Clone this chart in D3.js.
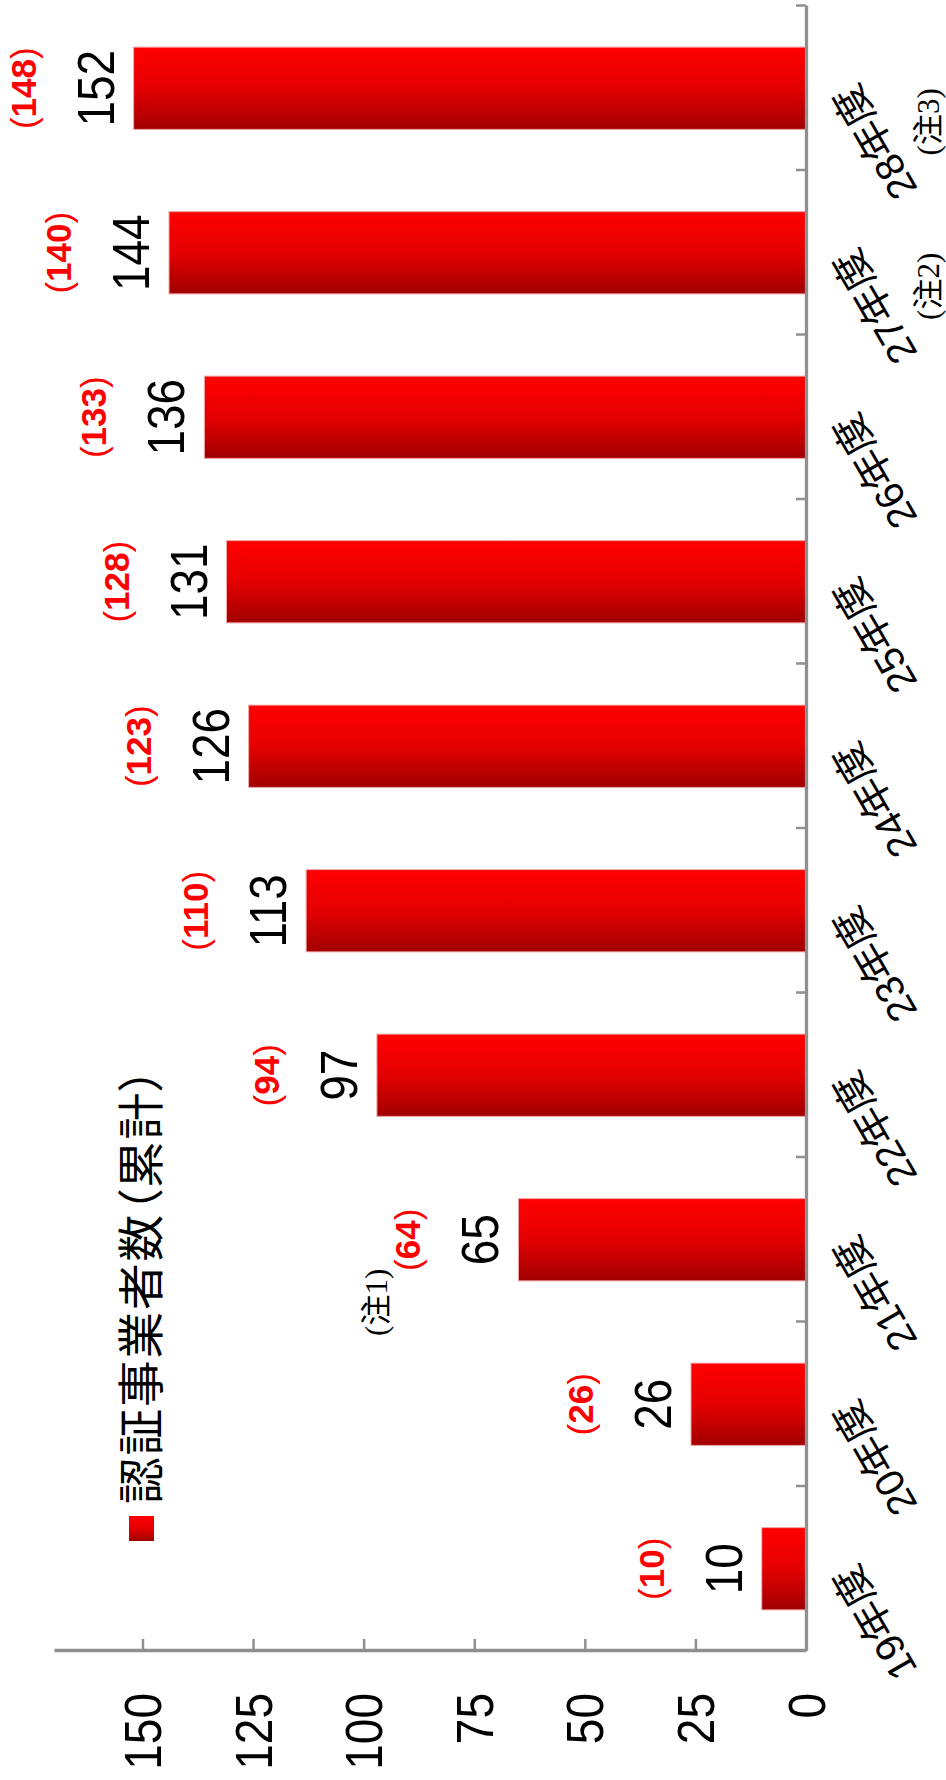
<!DOCTYPE html>
<html>
<head>
<meta charset="utf-8">
<script src="https://cdn.jsdelivr.net/npm/d3@7"></script>
<style>
  body { margin: 0; background: #fff; }
  svg { display: block; }
</style>
</head>
<body>
<div id="chart"></div>
<script>
// Datos
var years = ["19年度", "20年度", "21年度", "22年度", "23年度", "24年度", "25年度", "26年度", "27年度", "28年度"];
var counts = [10, 26, 65, 97, 113, 126, 131, 136, 144, 152];
var prevCounts = [10, 26, 64, 94, 110, 123, 128, 133, 140, 148];
var valueTicks = [0, 25, 50, 75, 100, 125, 150];
var valueMax = 170;
var legendLabel = "認証事業者数（累計）";
var barNotes = [{ year: "21年度", text: "(注1)" }];
var axisNotes = [{ year: "27年度", text: "(注2)" }, { year: "28年度", text: "(注3)" }];

// La página es vertical; el gráfico se dibuja apaisado y se gira -90 grados
var W = 946, H = 1780;
var cw = H, ch = W;
var margin = { top: 54, right: 6, bottom: 140, left: 129 };

var svg = d3.select("#chart")
    .append("svg")
    .attr("width", W)
    .attr("height", H);

// Degradado de las barras (oscuro abajo, rojo vivo arriba)
var grad = svg.append("defs").append("linearGradient")
    .attr("id", "barGrad")
    .attr("x1", 0).attr("y1", 0).attr("x2", 1).attr("y2", 0);
grad.append("stop").attr("offset", "0%").attr("stop-color", "#a00000");
grad.append("stop").attr("offset", "50%").attr("stop-color", "#e40000");
grad.append("stop").attr("offset", "100%").attr("stop-color", "#ff0000");

var g = svg.append("g")
    .attr("transform", "translate(0," + H + ") rotate(-90)");

// Escalas
var x = d3.scaleBand()
    .domain(years)
    .range([margin.left, cw - margin.right])
    .paddingInner(0.5)
    .paddingOuter(0.25);

var xEdge = d3.scaleLinear()
    .domain([0, years.length])
    .range([margin.left, cw - margin.right]);

var y = d3.scaleLinear()
    .domain([0, valueMax])
    .range([ch - margin.bottom, margin.top]);

var numFont = "'Liberation Sans', Arial, sans-serif";
var labFont = "'Liberation Sans', 'Noto Sans CJK JP', sans-serif";
var jpFont = "'Noto Sans CJK JP', 'Noto Sans', sans-serif";
var noteFont = "'Liberation Serif', 'Noto Sans CJK JP', serif";

// Barras
g.selectAll("rect.bar")
    .data(counts)
    .enter()
    .append("rect")
    .attr("class", "bar")
    .attr("x", function (d, i) { return x(years[i]); })
    .attr("y", function (d) { return y(d); })
    .attr("width", x.bandwidth())
    .attr("height", function (d) { return y(0) - y(d); })
    .attr("fill", "url(#barGrad)")
    .attr("stroke", "#f2a6a6")
    .attr("stroke-width", 1);

// Eje de categorías (marcas entre barras)
var xAxis = g.append("g")
    .attr("transform", "translate(0," + y(0) + ")")
    .call(d3.axisBottom(xEdge)
        .tickValues(d3.range(1, years.length + 1))
        .tickSize(-10)
        .tickSizeOuter(0)
        .tickFormat(""));

// Eje de valores
var yAxis = g.append("g")
    .attr("transform", "translate(" + margin.left + ",0)")
    .call(d3.axisLeft(y)
        .tickValues(valueTicks)
        .tickSize(-12)
        .tickSizeOuter(0)
        .tickFormat(""));

[xAxis, yAxis].forEach(function (a) {
    a.select(".domain").attr("stroke", "#8f8f8f").attr("stroke-width", 3.3);
    a.selectAll(".tick line").attr("stroke", "#8f8f8f").attr("stroke-width", 2.5);
});

// Etiquetas del eje de valores
g.selectAll("text.ytick")
    .data(valueTicks)
    .enter()
    .append("text")
    .attr("class", "ytick")
    .attr("transform", function (d) {
        return "translate(" + (margin.left - 42) + "," + y(d) + ") scale(1,1.12)";
    })
    .attr("dy", "0.36em")
    .attr("text-anchor", "end")
    .style("font-family", numFont)
    .style("font-size", "46px")
    .attr("fill", "#000")
    .text(function (d) { return d; });

// Etiquetas de categorías, inclinadas
g.selectAll("text.xlab")
    .data(years)
    .enter()
    .append("text")
    .attr("class", "xlab")
    .attr("transform", function (d) {
        return "translate(" + (x(d) + x.bandwidth() / 2 + 7) + "," + (y(0) + 50) + ") rotate(-30)";
    })
    .attr("text-anchor", "end")
    .style("font-family", labFont)
    .style("font-size", "40px")
    .attr("fill", "#000")
    .text(function (d) { return d; });

// Valores actuales (negro)
g.selectAll("text.val")
    .data(counts)
    .enter()
    .append("text")
    .attr("class", "val")
    .attr("transform", function (d, i) {
        return "translate(" + (x(years[i]) + x.bandwidth() / 2) + "," + (y(d) - 20) + ") scale(1,1.12)";
    })
    .attr("text-anchor", "middle")
    .style("font-family", numFont)
    .style("font-size", "46px")
    .attr("fill", "#000")
    .text(function (d) { return d; });

// Valores anteriores entre paréntesis (rojo)
var prev = g.selectAll("text.prev")
    .data(prevCounts)
    .enter()
    .append("text")
    .attr("class", "prev")
    .attr("x", function (d, i) { return x(years[i]) + x.bandwidth() / 2; })
    .attr("y", function (d, i) { return y(counts[i]) - 98; })
    .attr("text-anchor", "middle")
    .style("font-family", numFont)
    .style("font-size", "35px")
    .attr("fill", "#ff0000");
prev.append("tspan").text("(");
prev.append("tspan").style("font-weight", "bold").text(function (d) { return d; });
prev.append("tspan").text(")");

// Notas
g.selectAll("text.barnote")
    .data(barNotes)
    .enter()
    .append("text")
    .attr("class", "barnote")
    .attr("x", function (d) { return x(d.year) + x.bandwidth() / 2 - 29; })
    .attr("y", function (d) { return y(counts[years.indexOf(d.year)]) - 131; })
    .attr("text-anchor", "end")
    .style("font-family", noteFont)
    .style("font-size", "31px")
    .attr("fill", "#000")
    .text(function (d) { return d.text; });

g.selectAll("text.axisnote")
    .data(axisNotes)
    .enter()
    .append("text")
    .attr("class", "axisnote")
    .attr("x", function (d) { return x(d.year) + x.bandwidth() / 2; })
    .attr("y", y(0) + 133)
    .attr("text-anchor", "end")
    .style("font-family", noteFont)
    .style("font-size", "31px")
    .attr("fill", "#000")
    .text(function (d) { return d.text; });

// Leyenda
var legend = g.append("g").attr("transform", "translate(239,129)");
legend.append("rect")
    .attr("width", 25)
    .attr("height", 25)
    .attr("fill", "url(#barGrad)");
legend.append("text")
    .attr("x", 37)
    .attr("y", 29)
    .style("font-family", jpFont)
    .style("font-size", "46.7px")
    .style("font-feature-settings", "'palt'")
    .style("letter-spacing", "1.8px")
    .attr("fill", "#000")
    .text(legendLabel);
</script>
</body>
</html>
